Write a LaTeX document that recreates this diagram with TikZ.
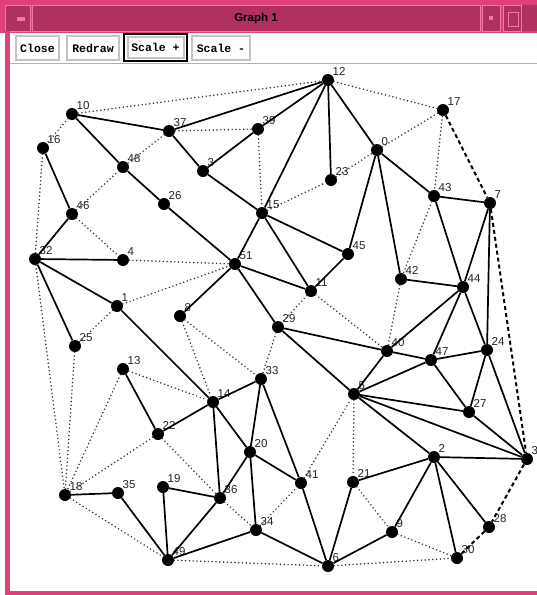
\documentclass[tikz,border=0pt]{standalone}
\usepackage{fontspec}
\setmainfont{Liberation Sans}
\newfontfamily\btnfont{Liberation Mono}
\definecolor{maroonX}{HTML}{B03060}
\definecolor{pinkframe}{HTML}{E0407A}
\definecolor{pinklight}{HTML}{F07AA4}
\definecolor{btngray}{HTML}{C4C4C4}
\tikzset{
 vtx/.style={circle,fill=black,draw=none,minimum size=12pt,inner sep=0pt},
 lbl/.style={anchor=base west,inner sep=0pt,font=\fontsize{11.5}{12}\selectfont,text=black!85},
 se/.style={draw=black,line width=1.7pt},
 de/.style={draw=black!80,line width=1.7pt,line cap=round,dash pattern=on 0pt off 3.8pt},
 ke/.style={draw=black,line width=2pt,dash pattern=on 4pt off 3pt},
 btn/.style={draw=btngray,line width=2pt,fill=white,inner sep=0pt,minimum height=24pt,
   font=\btnfont\bfseries\fontsize{11.5}{12}\selectfont},
 titletext/.style={font=\bfseries\fontsize{11.5}{12}\selectfont,text=black},
}
\newcommand\gv[4]{\node[vtx] (n#1) at (#2,#3) {}; \node[lbl] (l#1) at ([xshift=4.5pt,yshift=5pt]n#1.center) {#4};}
\begin{document}
\begin{tikzpicture}[x=1pt,y=-1pt]
\useasboundingbox (0,0) rectangle (537,595);
\fill[white] (0,0) rectangle (537,595);
% window frame
\fill[pinkframe] (0,0) rectangle (537,33);
\fill[maroonX] (32,5) rectangle (480,31);
\draw[pinklight,line width=0.8pt] (32,5) rectangle (480,31);
\fill[maroonX] (5,5) rectangle (30,31);
\draw[pinklight,line width=0.8pt] (5,5) rectangle (30,31);
\fill[pinklight] (17,17) rectangle (25,21);
\fill[maroonX] (482,5) rectangle (500,31);
\draw[pinklight,line width=0.8pt] (482,5) rectangle (500,31);
\fill[pinklight] (489,16) rectangle (493,20);
\fill[maroonX] (503,5) rectangle (537,31);
\draw[pinklight,line width=0.8pt] (503,5) rectangle (521,31);
\draw[pinklight,line width=0.8pt] (508,12) rectangle (518,26);
\node[titletext] (title) at (256,19) {Graph 1};
\fill[pinkframe] (5,31) rectangle (10,595);
\fill[pinkframe] (5,591) rectangle (537,595);
% toolbar
\node[btn,minimum width=43pt] (bclose) at (37.5,48) {Close};
\node[btn,minimum width=52pt] (bredraw) at (93,48) {Redraw};
\node[draw=black,line width=2.5pt,minimum width=63pt,minimum height=27pt,inner sep=0pt] (bplusframe) at (155.5,47.5) {};
\node[btn,minimum width=56pt,minimum height=21pt] (bplus) at (155.5,47.5) {Scale +};
\node[btn,minimum width=58pt] (bminus) at (221,48) {Scale -};
\draw[gray!60,line width=1pt] (10,63.5) -- (537,63.5);
% vertices
\gv{12}{328}{80}{12}
\gv{10}{72}{114}{10}
\gv{37}{169}{131}{37}
\gv{39}{258}{129}{39}
\gv{17}{443}{110}{17}
\gv{16}{43}{148}{16}
\gv{48}{123}{167}{48}
\gv{0}{377}{150}{0}
\gv{3a}{203}{171}{3}
\gv{23}{331}{180}{23}
\gv{43}{434}{196}{43}
\gv{7}{490}{203}{7}
\gv{26}{164}{204}{26}
\gv{46}{72}{214}{46}
\gv{15}{262}{213}{15}
\gv{45}{348}{254}{45}
\gv{32}{35}{259}{32}
\gv{4}{123}{260}{4}
\gv{51}{235}{264}{51}
\gv{42}{401}{279}{42}
\gv{44}{463}{287}{44}
\gv{11}{311}{291}{11}
\gv{1}{117}{306}{1}
\gv{8}{180}{316}{8}
\gv{25}{75}{346}{25}
\gv{29}{278}{327}{29}
\gv{40}{387}{351}{40}
\gv{47}{431}{360}{47}
\gv{24}{487}{350}{24}
\gv{13}{123}{369}{13}
\gv{33}{261}{379}{33}
\gv{5}{354}{394}{5}
\gv{14}{213}{402}{14}
\gv{27}{469}{412}{27}
\gv{22}{158}{434}{22}
\gv{20}{250}{452}{20}
\gv{2}{434}{457}{2}
\gv{3b}{527}{459}{3}
\gv{21}{353}{482}{21}
\gv{41}{301}{483}{41}
\gv{18}{65}{495}{18}
\gv{35}{118}{493}{35}
\gv{19}{163}{487}{19}
\gv{36}{220}{498}{36}
\gv{34}{256}{530}{34}
\gv{9}{392}{532}{9}
\gv{28}{489}{527}{28}
\gv{30}{457}{558}{30}
\gv{49}{168}{560}{49}
\gv{6}{328}{566}{6}
% solid edges
\foreach \a/\b in {10/37,10/48,48/26,26/51,37/12,37/3a,3a/39,3a/15,39/12,12/15,12/23,12/0,
 0/45,0/42,0/43,43/7,43/44,7/44,7/24,15/51,15/45,15/11,45/11,51/11,51/8,51/29,
 16/46,46/32,32/4,32/1,32/25,1/14,42/44,44/40,44/47,44/24,29/40,29/5,40/47,40/5,
 47/24,47/5,47/27,24/27,24/3b,5/27,5/3b,5/2,27/3b,2/3b,2/21,2/9,2/30,2/28,
 13/22,22/14,14/33,14/20,14/36,33/20,33/41,20/41,20/36,20/34,41/6,21/6,9/6,
 34/6,34/49,36/49,19/36,19/49,18/35,35/49}
 \draw[se] (n\a) -- (n\b);
% dotted edges
\foreach \a/\b in {10/12,12/17,10/16,37/39,37/48,39/15,15/23,23/0,0/17,17/43,43/42,42/40,
 11/40,11/29,16/32,46/48,46/4,4/51,1/51,1/25,32/18,25/18,13/18,22/18,18/49,13/14,
 8/14,8/33,29/33,22/36,36/34,34/41,41/5,5/21,21/9,9/30,49/6,6/30}
 \draw[de] (n\a) -- (n\b);
% dashed edges
\foreach \a/\b in {17/7,7/3b,3b/28,28/30}
 \draw[ke] (n\a) -- (n\b);
\end{tikzpicture}
\end{document}
